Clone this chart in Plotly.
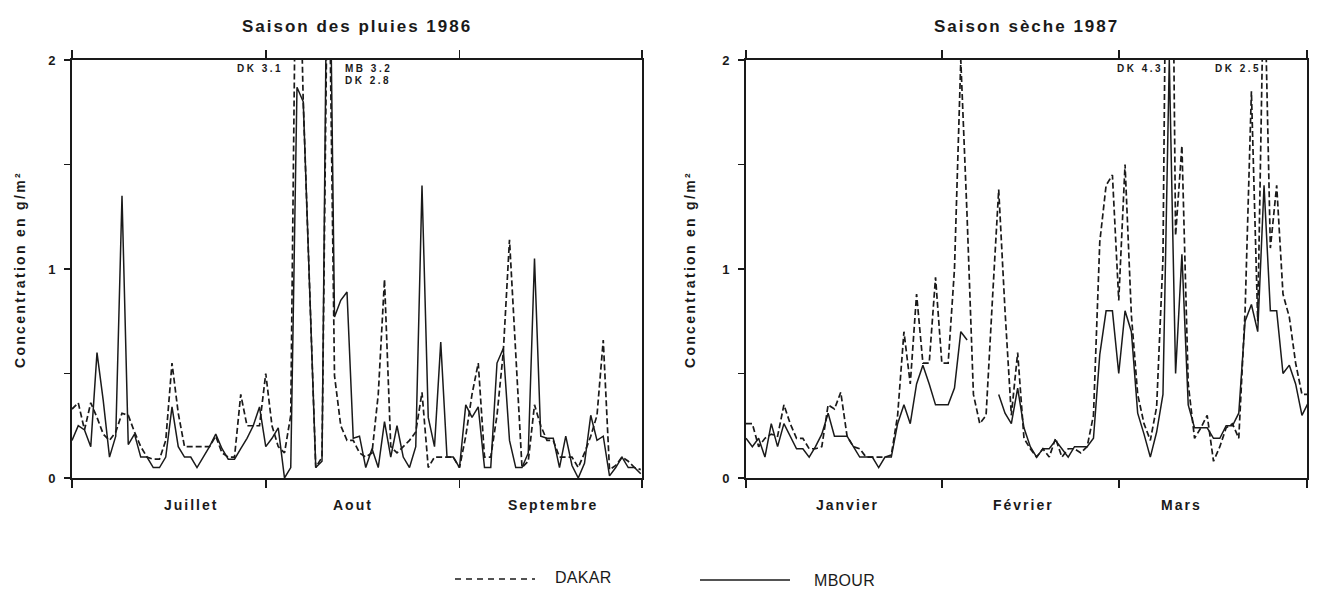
import plotly.graph_objects as go

# ---------------- data (g/m2, one value per day) ----------------
# Saison des pluies 1986 : 1 juillet .. 30 septembre
MOIS_PLUIES = ["Juillet", "Aout", "Septembre"]
MOIS_PLUIES_DEBUT = [0, 31, 62]
MOIS_PLUIES_LABEL_JOUR = [19, 45, 77]
DAKAR_PLUIES = [
    0.33, 0.36, 0.23, 0.36, 0.29, 0.21, 0.18, 0.22, 0.31, 0.30,
    0.22, 0.15, 0.10, 0.09, 0.09, 0.18, 0.55, 0.31, 0.15, 0.15,
    0.15, 0.15, 0.15, 0.20, 0.12, 0.10, 0.10, 0.40, 0.25, 0.25,
    0.25, 0.50, 0.25, 0.15, 0.12, 0.30, 3.10, 1.80, 0.90, 0.05,
    0.10, 2.80, 0.49, 0.25, 0.18, 0.18, 0.12, 0.10, 0.12, 0.40,
    0.95, 0.15, 0.12, 0.15, 0.18, 0.22, 0.41, 0.05, 0.10, 0.10,
    0.10, 0.10, 0.05, 0.20, 0.40, 0.55, 0.10, 0.10, 0.30, 0.60,
    1.14, 0.60, 0.05, 0.08, 0.35, 0.25, 0.18, 0.18, 0.10, 0.10,
    0.10, 0.05, 0.12, 0.20, 0.30, 0.66, 0.04, 0.06, 0.10, 0.08,
    0.05, 0.04,
]
MBOUR_PLUIES = [
    0.18, 0.25, 0.23, 0.15, 0.60, 0.37, 0.10, 0.20, 1.35, 0.16,
    0.21, 0.10, 0.10, 0.05, 0.05, 0.10, 0.34, 0.15, 0.10, 0.10,
    0.05, 0.10, 0.15, 0.21, 0.14, 0.09, 0.09, 0.14, 0.19, 0.25,
    0.34, 0.15, 0.19, 0.24, 0.00, 0.05, 1.87, 1.80, 0.95, 0.05,
    0.08, 3.20, 0.77, 0.85, 0.89, 0.19, 0.20, 0.05, 0.14, 0.05,
    0.27, 0.10, 0.25, 0.10, 0.05, 0.15, 1.40, 0.29, 0.15, 0.65,
    0.10, 0.10, 0.05, 0.35, 0.29, 0.34, 0.05, 0.05, 0.55, 0.62,
    0.18, 0.05, 0.05, 0.12, 1.05, 0.20, 0.19, 0.19, 0.05, 0.20,
    0.06, 0.00, 0.07, 0.30, 0.18, 0.20, 0.01, 0.05, 0.10, 0.05,
    0.05, 0.02,
]

# Saison seche 1987 : 1 janvier .. 31 mars
MOIS_SECHE = ["Janvier", "Février", "Mars"]
MOIS_SECHE_DEBUT = [0, 31, 59]
MOIS_SECHE_LABEL_JOUR = [16, 44, 69]
DAKAR_SECHE = [
    0.26, 0.26, 0.15, 0.19, 0.21, 0.20, 0.35, 0.26, 0.19, 0.19,
    0.14, 0.14, 0.15, 0.35, 0.33, 0.41, 0.20, 0.15, 0.14, 0.10,
    0.10, 0.10, 0.10, 0.11, 0.30, 0.70, 0.45, 0.88, 0.55, 0.55,
    0.96, 0.55, 0.55, 1.00, 2.00, 1.25, 0.40, 0.26, 0.30, 0.85,
    1.38, 0.80, 0.30, 0.60, 0.19, 0.14, 0.10, 0.14, 0.10, 0.19,
    0.10, 0.14, 0.14, 0.12, 0.15, 0.30, 1.13, 1.40, 1.45, 0.85,
    1.50, 0.78, 0.40, 0.26, 0.18, 0.34, 1.05, 4.30, 1.16, 1.59,
    0.45, 0.19, 0.24, 0.30, 0.08, 0.15, 0.24, 0.26, 0.19, 0.80,
    1.85, 0.75, 2.50, 1.10, 1.40, 0.88, 0.77, 0.55, 0.40, 0.40,
]
MBOUR_SECHE = [
    0.19, 0.15, 0.19, 0.10, 0.26, 0.15, 0.26, 0.20, 0.14, 0.14,
    0.10, 0.15, 0.21, 0.31, 0.20, 0.20, 0.20, 0.15, 0.10, 0.10,
    0.10, 0.05, 0.10, 0.10, 0.26, 0.35, 0.26, 0.45, 0.54, 0.45,
    0.35, 0.35, 0.35, 0.43, 0.70, 0.66, None, None, None, None,
    0.40, 0.31, 0.26, 0.43, 0.24, 0.15, 0.10, 0.14, 0.14, 0.18,
    0.14, 0.10, 0.15, 0.15, 0.15, 0.19, 0.59, 0.80, 0.80, 0.50,
    0.80, 0.70, 0.31, 0.21, 0.10, 0.22, 0.40, 2.00, 0.50, 1.07,
    0.35, 0.24, 0.24, 0.24, 0.19, 0.19, 0.25, 0.25, 0.31, 0.75,
    0.83, 0.70, 1.40, 0.80, 0.80, 0.50, 0.54, 0.45, 0.30, 0.36,
]

# values above the 2 g/m2 frame are written as text: (text, day, anchor, row, shift px)
HORS_CADRE_PLUIES = [("DK 3.1", 36, "right", 0, -12), ("MB 3.2", 41, "left", 0, 15),
                     ("DK 2.8", 41, "left", 1, 15)]
HORS_CADRE_SECHE = [("DK 4.3", 67, "right", 0, -4), ("DK 2.5", 82, "right", 0, -1)]

Y_TICKS = [0, 0.5, 1, 1.5, 2]
Y_TEXT = ["0", "", "1", "", "2"]
Y_TITLE = "Concentration en g/m²"

FONT = "Liberation Sans, Arial, sans-serif"
INK = "#1a1a1a"
W, H = 1334, 598


def spaced(txt, ls):
    return '<span style="letter-spacing:%spx">%s</span>' % (ls, txt)


def px_x(p):
    return p / W


def px_y(p):
    return 1 - p / H


fig = go.Figure()

panels = [
    dict(x="x", y="y", dak=DAKAR_PLUIES, mb=MBOUR_PLUIES, end=91.2,
         dom=[px_x(72), px_x(642)], mois=MOIS_PLUIES, debut=MOIS_PLUIES_DEBUT,
         lab=MOIS_PLUIES_LABEL_JOUR,
         title="Saison des pluies 1986", hc=HORS_CADRE_PLUIES, ytx=20),
    dict(x="x2", y="y2", dak=DAKAR_SECHE, mb=MBOUR_SECHE, end=88.8,
         dom=[px_x(746), px_x(1307)], mois=MOIS_SECHE, debut=MOIS_SECHE_DEBUT,
         lab=MOIS_SECHE_LABEL_JOUR,
         title="Saison sèche 1987", hc=HORS_CADRE_SECHE, ytx=690),
]

ydom = [px_y(478), px_y(60)]

for i, p in enumerate(panels):
    days = list(range(len(p["dak"])))
    fig.add_trace(go.Scatter(x=days, y=p["dak"], mode="lines", name="DAKAR",
                             line=dict(color=INK, width=1.7, dash="6px,3px"),
                             xaxis=p["x"], yaxis=p["y"], showlegend=False, connectgaps=False,
                             hoverinfo="skip"))
    fig.add_trace(go.Scatter(x=days, y=p["mb"], mode="lines", name="MBOUR",
                             line=dict(color=INK, width=1.5),
                             xaxis=p["x"], yaxis=p["y"], showlegend=False, connectgaps=False,
                             hoverinfo="skip"))
    sfx = "" if i == 0 else "2"
    xname = "xaxis" + sfx
    yname = "yaxis" + sfx
    yrname = "yaxis" + ("3" if i == 0 else "4")
    ticks_x = p["debut"][:] + [p["end"]]
    fig.update_layout(**{
        xname: dict(domain=p["dom"], range=[0, p["end"]], anchor=p["y"],
                    tickvals=ticks_x, ticktext=[""] * len(ticks_x),
                    ticks="outside", ticklen=8, tickwidth=1.6, tickcolor=INK,
                    showline=True, linewidth=2, linecolor=INK, mirror="ticks",
                    showgrid=False, zeroline=False, fixedrange=True, automargin=False),
        yname: dict(domain=ydom, range=[0, 2], anchor=p["x"],
                    tickvals=Y_TICKS, ticktext=Y_TEXT,
                    ticks="outside", ticklen=6, tickwidth=1.4, tickcolor=INK,
                    showline=True, linewidth=2, linecolor=INK, mirror=True,
                    showgrid=False, zeroline=False, ticklabelstandoff=6, automargin=False,
                    fixedrange=True,
                    tickfont=dict(family=FONT, size=13, color=INK, weight="bold")),
        yrname: dict(domain=ydom, range=[0, 2], anchor=p["x"], overlaying=p["y"],
                     side="right", tickvals=Y_TICKS, ticktext=Y_TEXT,
                     ticks="outside", ticklen=8, tickwidth=1.4, tickcolor=INK,
                     showline=False, showgrid=False, zeroline=False,
                     ticklabelstandoff=3, automargin=False, fixedrange=True,
                     tickfont=dict(family=FONT, size=13, color=INK, weight="bold")),
    })
    # month names
    for m, d in zip(p["mois"], p["lab"]):
        fig.add_annotation(x=d, y=px_y(505), xref=p["x"], yref="paper", text=spaced(m, 2),
                           showarrow=False, xanchor="center", yanchor="middle",
                           font=dict(family=FONT, size=14, color=INK, weight="bold"))
    # title
    fig.add_annotation(x=(p["dom"][0] + p["dom"][1]) / 2, y=px_y(27), xref="paper", yref="paper",
                       text=spaced(p["title"], 2.0), showarrow=False,
                       xanchor="center", yanchor="middle",
                       font=dict(family=FONT, size=17, color=INK, weight="bold"))
    # y axis title
    fig.add_annotation(x=px_x(p["ytx"]), y=px_y(270), xref="paper", yref="paper",
                       text=spaced(Y_TITLE, 2.3), textangle=-90, showarrow=False,
                       xanchor="center", yanchor="middle",
                       font=dict(family=FONT, size=14, color=INK, weight="bold"))
    # values out of frame
    for txt, d, side, row, sh in p["hc"]:
        fig.add_annotation(x=d, y=2, xref=p["x"], yref=p["y"], text=spaced(txt, 2.5),
                           showarrow=False,
                           xanchor="right" if side == "right" else "left",
                           yanchor="top", xshift=sh,
                           yshift=-1 - 12 * row,
                           font=dict(family=FONT, size=10, color=INK, weight="bold"))

# legend drawn at the bottom
fig.add_shape(type="line", xref="paper", yref="paper", x0=px_x(455), x1=px_x(535),
              y0=px_y(579), y1=px_y(579), line=dict(color=INK, width=1.6, dash="6px,5px"))
fig.add_annotation(x=px_x(553), y=px_y(577), xref="paper", yref="paper", text=spaced("DAKAR", 0.3),
                   xanchor="left", yanchor="middle", showarrow=False,
                   font=dict(family=FONT, size=16, color=INK))
fig.add_shape(type="line", xref="paper", yref="paper", x0=px_x(700), x1=px_x(790),
              y0=px_y(580), y1=px_y(580), line=dict(color=INK, width=1.6))
fig.add_annotation(x=px_x(812), y=px_y(580), xref="paper", yref="paper", text=spaced("MBOUR", 0.3),
                   xanchor="left", yanchor="middle", showarrow=False,
                   font=dict(family=FONT, size=16, color=INK))

fig.update_layout(width=W, height=H, margin=dict(l=0, r=0, t=0, b=0, autoexpand=False),
                  paper_bgcolor="white", plot_bgcolor="white", showlegend=False,
                  hovermode=False, dragmode=False,
                  font=dict(family=FONT, color=INK))

fig.write_html("out.html", config={"displayModeBar": False, "staticPlot": True},
               post_script="document.body.style.margin='0px';")
